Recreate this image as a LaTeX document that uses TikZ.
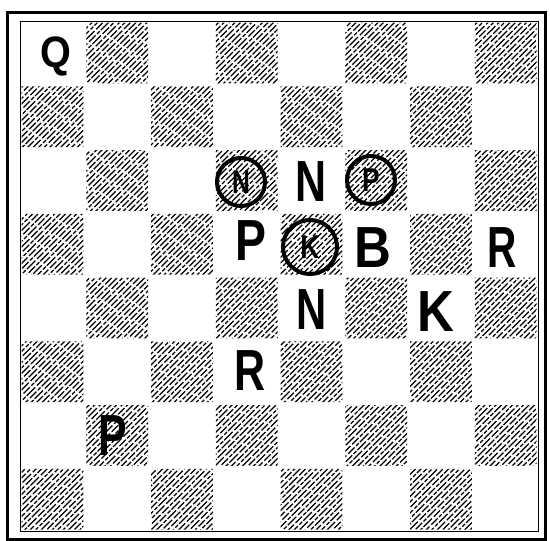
\documentclass[tikz,border=0pt]{standalone}
\usepackage{fontspec}
\setmainfont{Liberation Sans}
\begin{document}
\begin{tikzpicture}[x=1pt,y=-1pt,
  piece/.style={inner sep=0pt,font=\fontsize{58}{58}\selectfont\bfseries},
  smallpiece/.style={inner sep=0pt,font=\fontsize{33}{33}\selectfont\bfseries},
  ring/.style={draw,circle,line width=4pt,inner sep=0pt},
  hatch/.style={line width=1.4pt,dash pattern=on 9pt off 2pt on 4pt off 1.5pt on 12pt off 2.5pt}]
\useasboundingbox (0,0) rectangle (550,541);
% hatched dark squares
\begin{scope}
\clip \foreach \r/\o in {0/1,1/0,2/1,3/0,4/1,5/0,6/1,7/0} {
  \foreach \k in {0,2,4,6} {
    ({20+(\k+\o)*64.75+1.5},{21+\r*63.75+1.5}) rectangle ++(61.75,60.75)
  }};
\foreach \i in {-110,...,110} {
  \pgfmathsetmacro\ph{mod(abs(\i)*13.3,33)}
  \draw[hatch,dash phase=\ph pt] ({275+\i*5.5-300},{541}) -- ++(560,-560);
}
\end{scope}
% frames
\draw[line width=0.8pt] (20,21) rectangle (538,531);
\draw[line width=3pt] (7,12) rectangle (545,539);
% pieces
\node[piece,xscale=0.9] (q) at (56,56) {\fontsize{44}{44}\selectfont Q};
\node[ring,minimum size=48pt] (cn) at (241,182) {};
\node[smallpiece,xscale=0.75] (cnl) at (cn) {N};
\node[piece,xscale=0.74] (n1) at (311,182) {N};
\node[ring,minimum size=48pt] (cp) at (371,180) {};
\node[smallpiece,xscale=0.8] (cpl) at (cp) {P};
\node[piece,xscale=0.8] (p1) at (251,241) {P};
\node[ring,minimum size=54pt] (ck) at (310,247) {};
\node[smallpiece,xscale=0.8] (ckl) at (ck) {K};
\node[piece,xscale=0.88] (b) at (373,248) {B};
\node[piece,xscale=0.7] (r1) at (502,248) {R};
\node[piece,xscale=0.72] (n2) at (312,310) {N};
\node[piece,xscale=0.88] (k) at (436,312) {K};
\node[piece,xscale=0.74] (r2) at (250,371) {R};
\node[piece,xscale=0.74] (p2) at (113,436) {P};
\end{tikzpicture}
\end{document}
